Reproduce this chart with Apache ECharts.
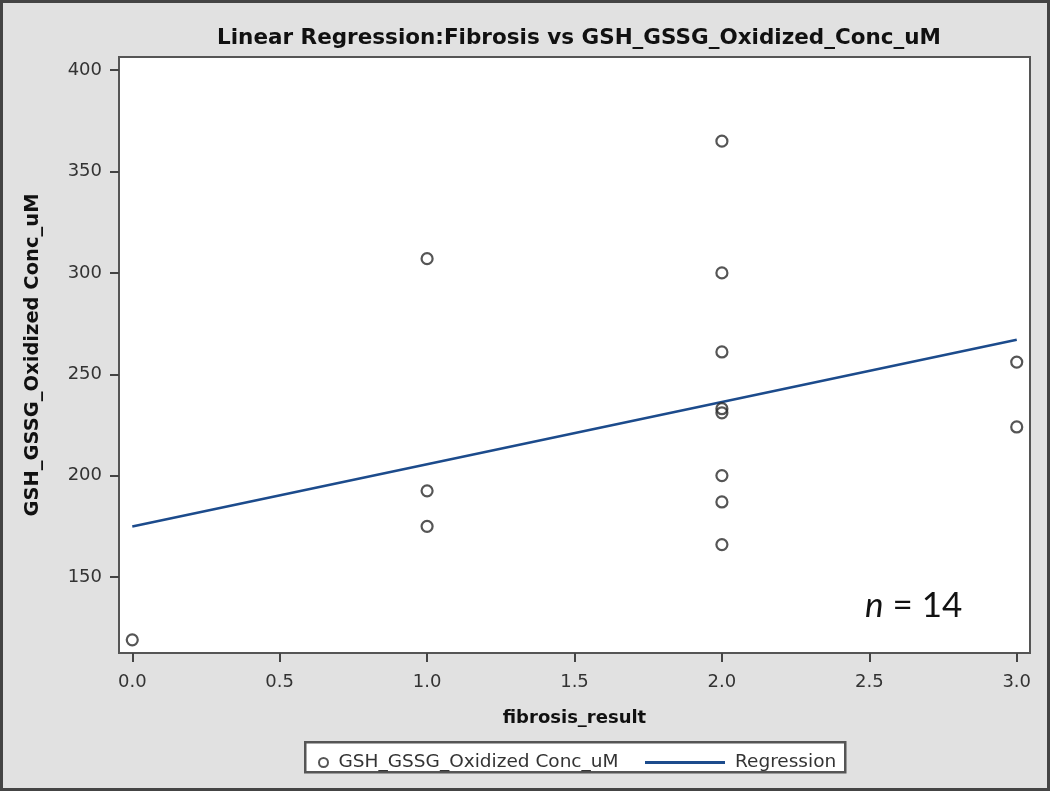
<!DOCTYPE html>
<html>
<head>
<meta charset="utf-8">
<script src="https://cdn.jsdelivr.net/npm/echarts@6/dist/echarts.min.js"></script>
<style>
  html, body { margin: 0; padding: 0; background: #e1e1e1; }
  #chart { width: 1050px; height: 791px; }
</style>
</head>
<body>
<div id="chart"></div>
<script>
// tick labels
const xTicks = [0, 0.5, 1, 1.5, 2, 2.5, 3]
const yTicks = [150, 200, 250, 300, 350, 400]

const fibrosis = [0, 1, 1, 1, 2, 2, 2, 2, 2, 2, 2, 2, 3, 3]
const gshConc = [119, 307, 192.5, 175, 365, 300, 261, 233, 231, 200, 187, 166, 256, 224]

// least squares fit
const n = fibrosis.length
const xMean = fibrosis.reduce((a, b) => a + b, 0) / n
const yMean = gshConc.reduce((a, b) => a + b, 0) / n
let sxy = 0
let sxx = 0
fibrosis.forEach((x, i) => {
  sxy += (x - xMean) * (gshConc[i] - yMean)
  sxx += (x - xMean) * (x - xMean)
})
const slope = sxy / sxx
const intercept = yMean - slope * xMean
const fitX = [0, 3]
const fitLine = fitX.map(x => [x, intercept + slope * x])

const font = 'DejaVu Sans'
const chart = echarts.init(document.getElementById('chart'))

chart.setOption({
  backgroundColor: '#e1e1e1',
  animation: false,
  title: {
    text: 'Linear Regression:Fibrosis vs GSH_GSSG_Oxidized_Conc_uM',
    left: 574,
    textAlign: 'center',
    top: 22,
    textStyle: { fontFamily: font, fontSize: 21.5, fontWeight: 'bold', color: '#111' }
  },
  grid: {
    left: 119,
    top: 57,
    right: 20,
    bottom: 138,
    show: true,
    backgroundColor: '#fff',
    borderColor: '#555',
    borderWidth: 2
  },
  legend: [
    {
      left: 313,
      top: 748,
      itemWidth: 20,
      itemHeight: 9,
      data: [{ name: 'GSH_GSSG_Oxidized Conc_uM', icon: 'circle' }],
      textStyle: { fontFamily: font, fontSize: 18.5, color: '#333' }
    },
    {
      left: 640,
      top: 748,
      itemWidth: 80,
      itemHeight: 3,
      data: [{ name: 'Regression', icon: 'rect' }],
      textStyle: { fontFamily: font, fontSize: 18.5, color: '#333', padding: [0, 0, 0, 5] }
    }
  ],
  xAxis: {
    type: 'value',
    min: -0.045,
    max: 3.045,
    name: 'fibrosis_result',
    nameLocation: 'middle',
    nameGap: 56,
    nameTextStyle: { fontFamily: font, fontSize: 18, fontWeight: 'bold', color: '#111' },
    axisLine: { show: true, onZero: false, lineStyle: { color: '#555', width: 2 } },
    axisTick: { show: true, length: 9, customValues: xTicks, lineStyle: { color: '#444', width: 2 } },
    axisLabel: {
      customValues: xTicks,
      margin: 20,
      fontFamily: font,
      fontSize: 18,
      color: '#333',
      formatter: v => v.toFixed(1)
    },
    splitLine: { show: false }
  },
  yAxis: {
    type: 'value',
    min: 112.5,
    max: 406.5,
    name: 'GSH_GSSG_Oxidized Conc_uM',
    nameLocation: 'middle',
    nameGap: 76,
    nameTextStyle: { fontFamily: font, fontSize: 19.5, fontWeight: 'bold', color: '#111' },
    axisLine: { show: true, onZero: false, lineStyle: { color: '#555', width: 2 } },
    axisTick: { show: true, length: 9, customValues: yTicks, lineStyle: { color: '#444', width: 2 } },
    axisLabel: {
      customValues: yTicks,
      margin: 17,
      fontFamily: font,
      fontSize: 18,
      color: '#333'
    },
    splitLine: { show: false }
  },
  graphic: [
    {
      type: 'rect',
      left: 304,
      top: 741,
      z: 1,
      shape: { width: 540, height: 30 },
      style: { fill: '#fff', stroke: '#555', lineWidth: 2.5 }
    },
    {
      type: 'rect',
      z: 1,
      shape: { x: 1.5, y: 1.5, width: 1047, height: 788 },
      style: { fill: 'none', stroke: '#444', lineWidth: 3 }
    },
    {
      type: 'text',
      left: 865,
      top: 588,
      z: 10,
      style: {
        text: '{i|n} = 14',
        fontFamily: 'Lato',
        fontSize: 35,
        fill: '#111',
        rich: { i: { fontStyle: 'italic', fontFamily: 'Lato', fontSize: 35, fill: '#111' } }
      }
    }
  ],
  series: [
    {
      name: 'GSH_GSSG_Oxidized Conc_uM',
      type: 'scatter',
      symbol: 'circle',
      symbolSize: 11,
      itemStyle: { color: 'rgba(255,255,255,0)', borderColor: '#2a2a2a', borderWidth: 2.2 },
      data: fibrosis.map((x, i) => [x, gshConc[i]]),
      z: 3
    },
    {
      name: 'Regression',
      type: 'line',
      symbol: 'none',
      lineStyle: { color: '#1c4b8c', width: 2.5 },
      itemStyle: { color: '#1c4b8c' },
      data: fitLine,
      z: 2
    }
  ]
})
</script>
</body>
</html>
